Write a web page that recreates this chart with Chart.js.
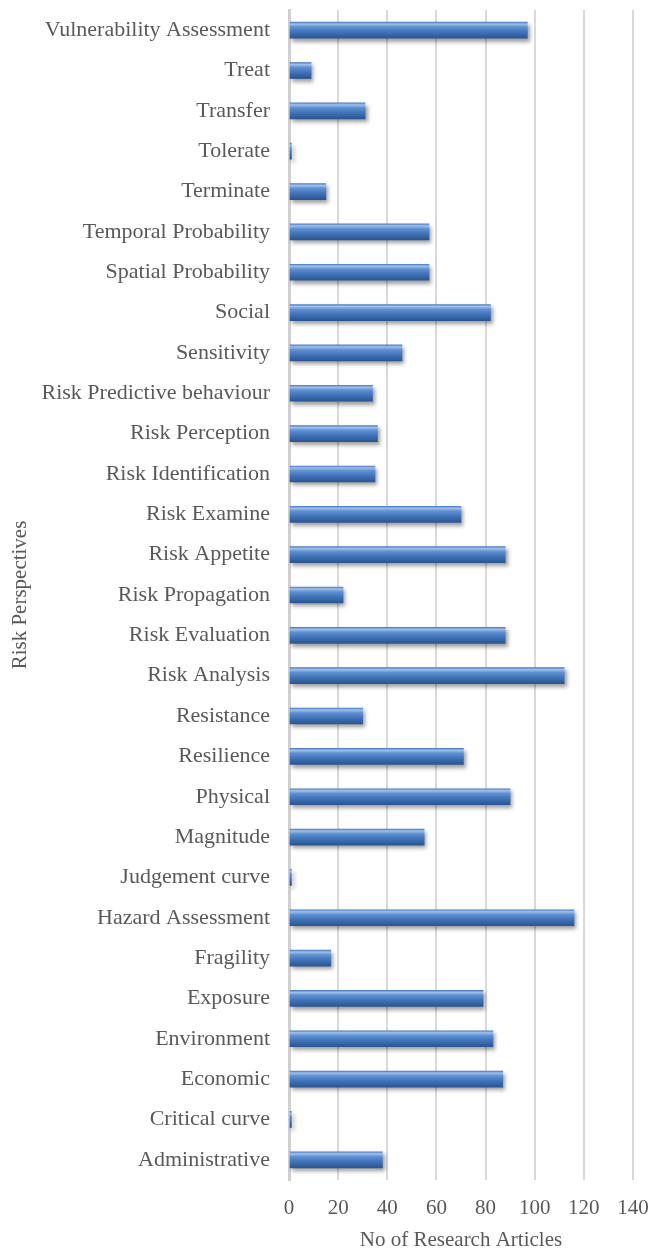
<!DOCTYPE html>
<html>
<head>
<meta charset="utf-8">
<script src="https://cdn.jsdelivr.net/npm/chart.js@4"></script>
<style>
  html, body { margin: 0; padding: 0; background: #fff; }
  #wrap { width: 651px; height: 1253px; position: relative; }
</style>
</head>
<body>
<div id="wrap"><canvas id="riskChart"></canvas></div>
<script>
  // categories, top to bottom as they appear in the figure
  const categories = [
    'Vulnerability Assessment', 'Treat', 'Transfer', 'Tolerate', 'Terminate',
    'Temporal Probability', 'Spatial Probability', 'Social', 'Sensitivity',
    'Risk Predictive behaviour', 'Risk Perception', 'Risk Identification',
    'Risk Examine', 'Risk Appetite', 'Risk Propagation', 'Risk Evaluation',
    'Risk Analysis', 'Resistance', 'Resilience', 'Physical', 'Magnitude',
    'Judgement curve', 'Hazard Assessment', 'Fragility', 'Exposure',
    'Environment', 'Economic', 'Critical curve', 'Administrative'
  ];
  const articleCounts = [
    97, 9, 31, 1, 15,
    57, 57, 82, 46,
    34, 36, 35,
    70, 88, 22, 88,
    112, 30, 71, 90, 55,
    1, 116, 17, 79,
    83, 87, 1, 38
  ];
  const xTicks = [0, 20, 40, 60, 80, 100, 120, 140];

  const textGrey = '#595959';
  const serif = "'Liberation Serif', 'Times New Roman', serif";

  // vertical gradient per bar to get the glossy Excel look
  function barFill(context) {
    const chart = context.chart;
    const yScale = chart.scales.y;
    if (!yScale || !chart.chartArea) return '#4f81bd';
    const yc = yScale.getPixelForValue(context.dataIndex);
    const g = chart.ctx.createLinearGradient(0, yc - 8, 0, yc + 8);
    g.addColorStop(0, '#4f80c4');
    g.addColorStop(0.12, '#9fc1ea');
    g.addColorStop(0.3, '#5f90d2');
    g.addColorStop(0.6, '#4174ba');
    g.addColorStop(1, '#2a5690');
    return g;
  }

  const barShadow = {
    id: 'barShadow',
    beforeDatasetsDraw: function(chart) {
      const ctx = chart.ctx;
      ctx.save();
      ctx.shadowColor = 'rgba(0, 0, 0, 0.38)';
      ctx.shadowBlur = 4;
      ctx.shadowOffsetX = 2;
      ctx.shadowOffsetY = 3;
    },
    afterDatasetsDraw: function(chart) {
      chart.ctx.restore();
    }
  };

  new Chart(document.getElementById('riskChart'), {
    type: 'bar',
    data: {
      labels: categories,
      datasets: [{
        label: 'No of Research Articles',
        data: articleCounts,
        backgroundColor: barFill,
        borderWidth: 0,
        barThickness: 16
      }]
    },
    options: {
      indexAxis: 'y',
      responsive: true,
      maintainAspectRatio: false,
      animation: false,
      layout: { padding: { top: 10, right: 18, bottom: 0, left: 0 } },
      plugins: {
        legend: { display: false },
        tooltip: { enabled: false }
      },
      scales: {
        x: {
          min: 0,
          max: 140,
          afterBuildTicks: function(scale) {
            scale.ticks = xTicks.map(function(v) { return { value: v }; });
          },
          afterFit: function(scale) {
            scale.height = 73;
            scale.paddingLeft = 0;
            scale.paddingRight = 0;
          },
          grid: { color: '#d9d9d9', lineWidth: 2, drawTicks: false },
          border: { display: false },
          ticks: { color: textGrey, font: { family: serif, size: 21 }, padding: 16, maxRotation: 0 },
          title: {
            display: true,
            text: 'No of Research Articles',
            color: textGrey,
            font: { family: serif, size: 21 },
            padding: { top: 0, bottom: 0 }
          }
        },
        y: {
          afterFit: function(scale) {
            scale.width = 289;
            scale.paddingTop = 0;
            scale.paddingBottom = 0;
          },
          grid: { display: false, drawTicks: false },
          border: { display: true, color: '#d0d0d0', width: 3 },
          ticks: { color: textGrey, font: { family: serif, size: 22 }, padding: 19, autoSkip: false },
          title: {
            display: true,
            text: 'Risk Perspectives',
            color: textGrey,
            font: { family: serif, size: 21 },
            padding: { top: 8, bottom: 0 }
          }
        }
      }
    },
    plugins: [barShadow]
  });
</script>
</body>
</html>
